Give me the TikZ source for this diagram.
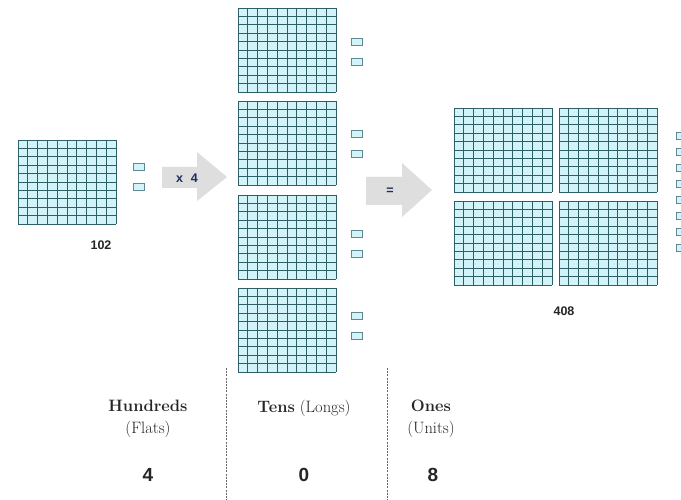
\documentclass[tikz,border=0pt]{standalone}
\usepackage{fontspec}
\newfontfamily\numfont{Liberation Sans}
\definecolor{gridfill}{HTML}{D2F4F8}
\definecolor{gridline}{HTML}{2E5E66}
\definecolor{unitline}{HTML}{5C8A90}
\definecolor{arrowgray}{HTML}{DEDEDE}
\definecolor{signblue}{HTML}{1E2D5C}
\tikzset{
  flatpic/.pic={
    \fill[gridfill] (0,0) rectangle (98,84);
    \foreach \i in {0,...,10} {
      \draw[gridline, line width=0.9pt] (\i*9.8,0) -- (\i*9.8,84);
      \draw[gridline, line width=0.9pt] (0,\i*8.4) -- (98,\i*8.4);
    }
  },
  unit/.style={draw=unitline, fill=gridfill, line width=0.9pt},
  colhead/.style={font=\fontsize{16.5}{22}\selectfont, align=center, text=black!85},
  digit/.style={font=\numfont\bfseries\fontsize{19}{21}\selectfont, text=black!85},
  sumlabel/.style={font=\numfont\bfseries\fontsize{12.5}{14}\selectfont, text=black!85},
  sign/.style={font=\numfont\bfseries\fontsize{12.5}{14}\selectfont, text=signblue},
  divider/.style={black!60, line width=0.8pt, dash pattern=on 2pt off 1.2pt},
}
\begin{document}
\begin{tikzpicture}[x=1pt,y=-1pt]
\clip (0,0) rectangle (681,500);
\fill[white] (0,0) rectangle (681,500);
% the number 102
\pic at (18,140) {flatpic};
\foreach \y in {163,183} \draw[unit] (133,\y) rectangle ++(11,7);
\node[sumlabel] (n102) at (101,245) {102};
% times four
\fill[arrowgray] (162,167) -- (197,167) -- (197,152) -- (227,177) -- (197,201) -- (197,188) -- (162,188) -- cycle;
\node[sign] (times) at (187,178) {x\hspace{8pt}4};
% four copies
\foreach \y/\ua/\ub in {8/38/58, 101/130/150, 195/230/250, 288/312/332} {
  \pic at (238,\y) {flatpic};
  \draw[unit] (351,\ua) rectangle ++(11,7);
  \draw[unit] (351,\ub) rectangle ++(11,7);
}
% equals
\fill[arrowgray] (366,177) -- (402,177) -- (402,163) -- (432,190) -- (402,217) -- (402,205) -- (366,205) -- cycle;
\node[sign] (equals) at (390,191) {=};
% the result 408
\foreach \x/\y in {454/108, 559/108, 454/201, 559/201} \pic at (\x,\y) {flatpic};
\foreach \k in {0,...,7} \draw[unit] (676,132+\k*16) rectangle ++(10,7);
\node[sumlabel] (n408) at (564,311) {408};
% place value table
\draw[divider] (226,368) -- (226,500);
\draw[divider] (387,368) -- (387,500);
\node[colhead] (hundreds) at (148,419) {\textbf{Hundreds}\\(Flats)};
\node[colhead] (tens) at (304,408) {\textbf{Tens} (Longs)};
\node[colhead] (ones) at (431,419) {\textbf{Ones}\\(Units)};
\node[digit] (d4) at (148,475) {4};
\node[digit] (d0) at (304,475) {0};
\node[digit] (d8) at (433,475) {8};
\end{tikzpicture}
\end{document}
